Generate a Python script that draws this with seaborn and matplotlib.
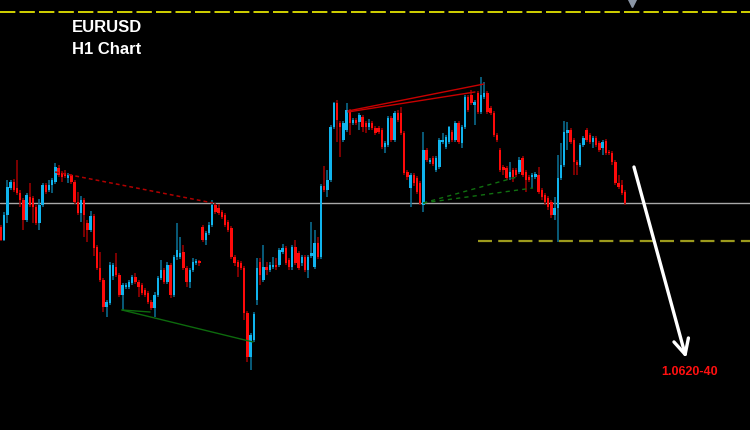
import matplotlib
matplotlib.use("Agg")
import matplotlib.pyplot as plt
import seaborn as sns
import numpy as np
import pandas as pd

# ---------------- data (EURUSD H1 candles) ----------------
opens = [1.0776,1.0763,1.0788,1.0815,1.0821,1.0815,1.0810,1.0803,1.0783,1.0806,
         1.0805,1.0796,1.0780,1.0798,1.0818,1.0813,1.0818,1.0821,1.0835,1.0830,
         1.0830,1.0825,1.0828,1.0821,1.0801,1.0790,1.0803,1.0780,1.0773,1.0787,
         1.0756,1.0735,1.0723,1.0696,1.0700,1.0727,1.0736,1.0728,1.0708,1.0716,
         1.0716,1.0720,1.0726,1.0721,1.0718,1.0713,1.0710,1.0701,1.0695,1.0708,
         1.0725,1.0733,1.0721,1.0738,1.0708,1.0746,1.0746,1.0751,1.0735,1.0721,
         1.0733,1.0740,1.0742,1.0776,1.0763,1.0770,1.0778,1.0798,1.0795,1.0791,
         1.0788,1.0781,1.0775,1.0746,1.0741,1.0740,1.0735,1.0690,1.0646,1.0663,
         1.0703,1.0741,1.0723,1.0736,1.0733,1.0736,1.0738,1.0738,1.0751,1.0755,
         1.0743,1.0736,1.0756,1.0750,1.0740,1.0746,1.0733,1.0747,1.0736,1.0760,
         1.0746,1.0817,1.0813,1.0823,1.0876,1.0900,1.0880,1.0863,1.0873,1.0892,
         1.0880,1.0883,1.0881,1.0886,1.0880,1.0876,1.0880,1.0875,1.0875,1.0873,
         1.0856,1.0858,1.0885,1.0863,1.0890,1.0890,1.0870,1.0831,1.0815,1.0828,
         1.0825,1.0820,1.0798,1.0853,1.0841,1.0845,1.0833,1.0836,1.0861,1.0856,
         1.0861,1.0871,1.0863,1.0880,1.0860,1.0876,1.0906,1.0908,1.0898,1.0910,
         1.0891,1.0906,1.0910,1.0895,1.0890,1.0868,1.0853,1.0836,1.0835,1.0826,
         1.0833,1.0833,1.0831,1.0845,1.0831,1.0826,1.0826,1.0826,1.0828,1.0813,
         1.0808,1.0805,1.0801,1.0788,1.0795,1.0825,1.0838,1.0870,1.0873,1.0863,
         1.0841,1.0838,1.0858,1.0873,1.0868,1.0861,1.0865,1.0860,1.0855,1.0862,
         1.0851,1.0850,1.0841,1.0820,1.0818,1.0811]
highs = [1.0778,1.0791,1.0823,1.0823,1.0824,1.0843,1.0813,1.0805,1.0810,1.0820,
         1.0807,1.0798,1.0804,1.0820,1.0820,1.0823,1.0825,1.0840,1.0838,1.0832,
         1.0833,1.0830,1.0829,1.0823,1.0811,1.0807,1.0805,1.0783,1.0792,1.0789,
         1.0758,1.0751,1.0725,1.0703,1.0741,1.0740,1.0750,1.0730,1.0720,1.0720,
         1.0723,1.0728,1.0730,1.0723,1.0720,1.0715,1.0712,1.0703,1.0711,1.0727,
         1.0743,1.0735,1.0741,1.0740,1.0748,1.0780,1.0766,1.0758,1.0737,1.0735,
         1.0745,1.0744,1.0743,1.0778,1.0772,1.0781,1.0803,1.0800,1.0799,1.0793,
         1.0790,1.0783,1.0777,1.0748,1.0743,1.0742,1.0737,1.0692,1.0670,1.0691,
         1.0745,1.0745,1.0758,1.0741,1.0741,1.0746,1.0745,1.0755,1.0759,1.0757,
         1.0745,1.0758,1.0763,1.0752,1.0748,1.0748,1.0748,1.0781,1.0773,1.0766,
         1.0819,1.0837,1.0833,1.0878,1.0901,1.0903,1.0882,1.0882,1.0900,1.0894,
         1.0885,1.0885,1.0890,1.0888,1.0882,1.0884,1.0882,1.0877,1.0877,1.0875,
         1.0862,1.0887,1.0887,1.0892,1.0893,1.0896,1.0872,1.0833,1.0830,1.0830,
         1.0827,1.0822,1.0871,1.0855,1.0845,1.0847,1.0847,1.0865,1.0870,1.0868,
         1.0877,1.0873,1.0882,1.0882,1.0878,1.0908,1.0908,1.0913,1.0903,1.0912,
         1.0926,1.0921,1.0912,1.0897,1.0892,1.0870,1.0855,1.0838,1.0837,1.0841,
         1.0835,1.0835,1.0846,1.0847,1.0833,1.0828,1.0830,1.0831,1.0836,1.0815,
         1.0810,1.0807,1.0803,1.0806,1.0848,1.0860,1.0882,1.0881,1.0875,1.0865,
         1.0843,1.0860,1.0867,1.0875,1.0870,1.0867,1.0867,1.0862,1.0863,1.0864,
         1.0853,1.0852,1.0843,1.0828,1.0823,1.0813]
lows = [1.0762,1.0762,1.0780,1.0813,1.0811,1.0808,1.0796,1.0773,1.0781,1.0796,
        1.0780,1.0778,1.0773,1.0796,1.0809,1.0811,1.0810,1.0819,1.0826,1.0821,
        1.0825,1.0820,1.0819,1.0799,1.0788,1.0781,1.0766,1.0761,1.0771,1.0747,
        1.0733,1.0721,1.0691,1.0686,1.0698,1.0723,1.0726,1.0706,1.0693,1.0714,
        1.0714,1.0718,1.0719,1.0706,1.0708,1.0706,1.0699,1.0693,1.0686,1.0706,
        1.0723,1.0719,1.0719,1.0705,1.0706,1.0743,1.0744,1.0733,1.0716,1.0715,
        1.0731,1.0738,1.0737,1.0761,1.0758,1.0768,1.0776,1.0789,1.0788,1.0784,
        1.0776,1.0771,1.0744,1.0737,1.0726,1.0733,1.0683,1.0641,1.0633,1.0661,
        1.0698,1.0718,1.0721,1.0728,1.0731,1.0734,1.0733,1.0736,1.0749,1.0738,
        1.0733,1.0733,1.0738,1.0733,1.0737,1.0731,1.0725,1.0745,1.0734,1.0744,
        1.0744,1.0811,1.0806,1.0821,1.0874,1.0861,1.0846,1.0861,1.0871,1.0868,
        1.0878,1.0878,1.0873,1.0871,1.0870,1.0873,1.0873,1.0868,1.0869,1.0854,
        1.0850,1.0856,1.0861,1.0861,1.0881,1.0868,1.0828,1.0823,1.0796,1.0817,
        1.0809,1.0798,1.0791,1.0841,1.0839,1.0837,1.0831,1.0834,1.0859,1.0854,
        1.0859,1.0861,1.0861,1.0859,1.0855,1.0874,1.0891,1.0898,1.0878,1.0889,
        1.0889,1.0904,1.0889,1.0888,1.0866,1.0861,1.0831,1.0828,1.0823,1.0823,
        1.0821,1.0826,1.0829,1.0826,1.0811,1.0821,1.0815,1.0824,1.0809,1.0803,
        1.0798,1.0793,1.0785,1.0783,1.0761,1.0823,1.0836,1.0853,1.0859,1.0828,
        1.0828,1.0836,1.0856,1.0861,1.0859,1.0855,1.0856,1.0851,1.0848,1.0848,
        1.0848,1.0838,1.0818,1.0814,1.0808,1.0798]
closes = [1.0763,1.0788,1.0816,1.0821,1.0813,1.0810,1.0803,1.0783,1.0808,1.0798,
          1.0796,1.0780,1.0798,1.0818,1.0811,1.0818,1.0823,1.0836,1.0828,1.0826,
          1.0827,1.0828,1.0821,1.0801,1.0790,1.0803,1.0788,1.0773,1.0787,1.0755,
          1.0735,1.0723,1.0696,1.0701,1.0738,1.0738,1.0728,1.0708,1.0718,1.0718,
          1.0721,1.0726,1.0721,1.0716,1.0710,1.0708,1.0701,1.0695,1.0708,1.0725,
          1.0733,1.0721,1.0738,1.0708,1.0746,1.0753,1.0750,1.0735,1.0721,1.0733,
          1.0741,1.0742,1.0740,1.0763,1.0770,1.0778,1.0798,1.0791,1.0790,1.0786,
          1.0778,1.0773,1.0746,1.0740,1.0736,1.0735,1.0690,1.0646,1.0668,1.0689,
          1.0735,1.0728,1.0736,1.0733,1.0738,1.0738,1.0736,1.0753,1.0755,1.0740,
          1.0736,1.0756,1.0740,1.0735,1.0746,1.0733,1.0746,1.0750,1.0760,1.0746,
          1.0817,1.0813,1.0823,1.0876,1.0900,1.0883,1.0876,1.0880,1.0893,1.0880,
          1.0883,1.0880,1.0888,1.0876,1.0876,1.0880,1.0875,1.0870,1.0871,1.0856,
          1.0860,1.0885,1.0863,1.0890,1.0883,1.0870,1.0830,1.0826,1.0828,1.0820,
          1.0811,1.0800,1.0853,1.0843,1.0843,1.0839,1.0845,1.0863,1.0863,1.0866,
          1.0876,1.0863,1.0880,1.0861,1.0876,1.0906,1.0893,1.0900,1.0901,1.0891,
          1.0908,1.0910,1.0891,1.0890,1.0868,1.0863,1.0833,1.0833,1.0825,1.0831,
          1.0826,1.0828,1.0843,1.0828,1.0823,1.0823,1.0828,1.0829,1.0811,1.0806,
          1.0801,1.0796,1.0788,1.0795,1.0825,1.0838,1.0871,1.0873,1.0861,1.0841,
          1.0838,1.0858,1.0865,1.0863,1.0861,1.0865,1.0858,1.0853,1.0861,1.0850,
          1.0850,1.0841,1.0820,1.0816,1.0810,1.0800]

title_lines = ["EURUSD", "H1 Chart"]
target_label = "1.0620-40"

# reference levels
pivot_level = 1.0800          # thin grey line
upper_level = 1.0991          # yellow dashed (top)
lower_level = 1.0762          # olive dashed (right)
lower_level_start = 149.1     # candle index where the lower dashed line starts

# drawn trend lines: (index, price) pairs
red_dotted = [(16.9, 1.0831), (66.25, 1.0800)]
green_solid_long = [(37.8, 1.0693), (78.75, 1.0661)]
green_solid_short = [(37.8, 1.0693), (46.6, 1.0691)]
red_solid_a = [(108.4, 1.0892), (150.9, 1.0919)]
red_solid_b = [(108.4, 1.0891), (148.1, 1.0911)]
green_dotted_a = [(131.9, 1.0800), (161.25, 1.0826)]
green_dotted_b = [(131.9, 1.0800), (166.25, 1.0815)]
arrow_start = (197.8, 1.0836)
arrow_end = (214.1, 1.0645)
label_pos = (215.3, 1.0631)
marker_pos = (197.2, 1.1000)

df = pd.DataFrame({"open": opens, "high": highs, "low": lows, "close": closes})
df["idx"] = np.arange(len(df))
df["bull"] = df["close"] >= df["open"]

# ---------------- style ----------------
sns.set_theme(style="dark", rc={"axes.facecolor": "black", "figure.facecolor": "black",
                                "savefig.facecolor": "black"})
plt.rcParams["font.family"] = ["Liberation Sans", "DejaVu Sans"]

fig = plt.figure(figsize=(7.5, 4.3), dpi=100)
ax = fig.add_axes([0, 0, 1, 1])
ax.set_facecolor("black")

BULL = "#10b4ee"
BEAR = "#ff0a0a"
BULL_W = "#0b7399"
BEAR_W = "#a00000"

# wicks
for bull, wc in [(True, BULL_W), (False, BEAR_W)]:
    sub = df[df["bull"] == bull]
    ax.vlines(sub["idx"], sub["low"], sub["high"], color=wc, lw=1.1, zorder=2)

# bodies
body_bottom = np.minimum(df["open"], df["close"])
body_h = np.maximum(np.abs(df["close"] - df["open"]), 0.0001)
colors = [BULL if b else BEAR for b in df["bull"]]
ax.bar(df["idx"], body_h, bottom=body_bottom, width=0.8, color=colors,
       linewidth=0, zorder=3)

# levels
ax.axhline(pivot_level, color="#a8a8a8", lw=1.0, zorder=1)
ax.axhline(upper_level, color="#e3e300", lw=1.3, ls=(0, (8.5, 2.3)), zorder=1)
ax.plot([lower_level_start, 240], [lower_level, lower_level], color="#9c9a1c",
        lw=1.6, ls=(0, (6.3, 2.8)), zorder=1)

# trend lines
def seg(pts, **kw):
    xs, ys = zip(*pts)
    ax.plot(xs, ys, **kw)

seg(red_dotted, color="#b00000", lw=1.1, ls=(0, (2.5, 2)), zorder=4)
seg(green_solid_long, color="#0d6a0d", lw=1.0, zorder=4)
seg(green_solid_short, color="#0d6a0d", lw=1.0, zorder=4)
seg(red_solid_a, color="#c80000", lw=1.0, zorder=4)
seg(red_solid_b, color="#c80000", lw=1.0, zorder=4)
seg(green_dotted_a, color="#107010", lw=1.0, ls=(0, (3, 3)), zorder=4)
seg(green_dotted_b, color="#107010", lw=1.0, ls=(0, (3, 3)), zorder=4)

# arrow
ax.annotate("", xy=arrow_end, xytext=arrow_start,
            arrowprops=dict(arrowstyle="->,head_length=0.9,head_width=0.45",
                            color="white", lw=2.4, shrinkA=0, shrinkB=0), zorder=5)

ax.plot([marker_pos[0]], [marker_pos[1]], marker="v", color="#8a95a5", ms=6, zorder=5)

# texts
ax.text(33.1, 1.0976, title_lines[0], color="white", fontsize=12, fontweight="heavy",
        ha="center", va="center")
ax.text(33.1, 1.0954, title_lines[1], color="white", fontsize=12, fontweight="heavy",
        ha="center", va="center")
ax.text(label_pos[0], label_pos[1], target_label, color="#ff1010", fontsize=9,
        fontweight="bold", ha="center", va="center")

ax.set_xlim(-0.3125, 234.06)
ax.set_ylim(1.0573, 1.1003)
ax.set_xticks([])
ax.set_yticks([])
ax.grid(False)
sns.despine(ax=ax, left=True, bottom=True)

fig.savefig("out.png", dpi=100, facecolor="black")
